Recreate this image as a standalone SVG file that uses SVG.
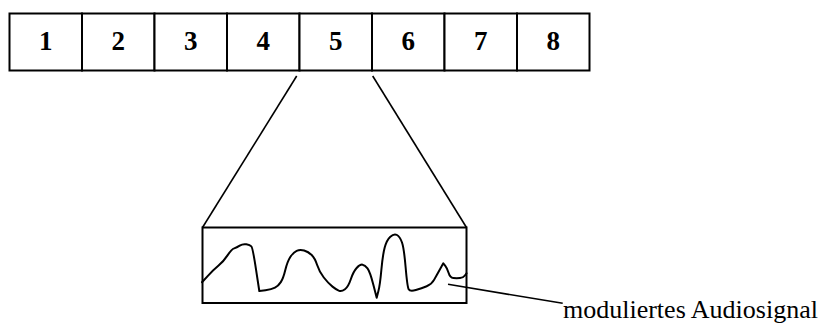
<svg xmlns="http://www.w3.org/2000/svg" width="828" height="325" viewBox="0 0 828 325">
<style>
.cell{fill:#fff;stroke:#000;stroke-width:2}
.num{font-family:"Liberation Serif","Times New Roman",serif;font-weight:bold;font-size:27px;text-anchor:middle;fill:#000}
.ln{stroke:#000;stroke-width:1.6;fill:none}
.wave{stroke:#000;stroke-width:2;fill:none;stroke-linejoin:round;stroke-linecap:round}
.lbl{font-family:"Liberation Serif","Times New Roman",serif;font-size:26px;fill:#000}
</style>
<rect width="828" height="325" fill="#fff"/>
<g id="cell1"><rect class="cell" x="9.5" y="13.5" width="72.5" height="57"/><text class="num" x="45.75" y="49.5">1</text></g>
<g id="cell2"><rect class="cell" x="82" y="13.5" width="72.5" height="57"/><text class="num" x="118.25" y="49.5">2</text></g>
<g id="cell3"><rect class="cell" x="154.5" y="13.5" width="72.5" height="57"/><text class="num" x="190.75" y="49.5">3</text></g>
<g id="cell4"><rect class="cell" x="227" y="13.5" width="72.5" height="57"/><text class="num" x="263.25" y="49.5">4</text></g>
<g id="cell5"><rect class="cell" x="299.5" y="13.5" width="72.5" height="57"/><text class="num" x="335.75" y="49.5">5</text></g>
<g id="cell6"><rect class="cell" x="372" y="13.5" width="72.5" height="57"/><text class="num" x="408.25" y="49.5">6</text></g>
<g id="cell7"><rect class="cell" x="444.5" y="13.5" width="72.5" height="57"/><text class="num" x="480.75" y="49.5">7</text></g>
<g id="cell8"><rect class="cell" x="517" y="13.5" width="72.5" height="57"/><text class="num" x="553.25" y="49.5">8</text></g>
<g id="signal">
<rect class="cell" x="202.5" y="227.5" width="264" height="75.5"/>
<path class="wave" d="M202,282.3 L207.65,276.15 Q213.3,270 218.3,265.85 Q223.3,261.7 227.5,255.35 Q231.7,249 234.2,248.35 Q236.7,247.7 239.7,245.7 Q242.7,243.7 246.35,244.35 Q250,245 251.35,246.35 Q252.7,247.7 256,269.35 L259.3,291 L265.5,290.15 Q271.7,289.3 275,287.65 Q278.3,286 280.8,282.15 Q283.3,278.3 285.3,270 Q287.3,261.7 290.3,257 Q293.3,252.3 296.65,250.8 Q300,249.3 304.15,250.5 Q308.3,251.7 311.65,255 Q315,258.3 317.15,265 Q319.3,271.7 323.8,277.5 Q328.3,283.3 332.5,286.65 Q336.7,290 339.2,290.85 Q341.7,291.7 345,289.2 Q348.3,286.7 350.8,279.2 Q353.3,271.7 356.65,268 Q360,264.3 362.5,264.65 Q365,265 367.5,268.35 Q370,271.7 373.35,284.7 L376.7,297.7 L378.35,291.35 Q380,285 381.35,270 Q382.7,255 384.7,247.5 Q386.7,240 390.35,236.65 Q394,233.3 397,235 Q400,236.7 402,242.5 Q404,248.3 405.65,267.5 Q407.3,286.7 408.65,289.2 Q410,291.7 415.85,290 Q421.7,288.3 426.7,286.3 Q431.7,284.3 434.2,279.65 Q436.7,275 440,269.15 L443.3,263.3 L445.3,265.8 Q447.3,268.3 448.65,273 Q450,277.7 453.35,278 Q456.7,278.3 460,278 Q463.3,277.7 464.9,275.5 L466.5,273.3"/>
</g>
<g id="connectors">
<line class="ln" x1="296.7" y1="76" x2="202.5" y2="227.5"/>
<line class="ln" x1="372.7" y1="76" x2="466.5" y2="227.5"/>
<line class="ln" x1="448" y1="284.3" x2="562.7" y2="303.3"/>
</g>
<g id="label"><text class="lbl" x="563" y="318">moduliertes Audiosignal</text></g>
</svg>
